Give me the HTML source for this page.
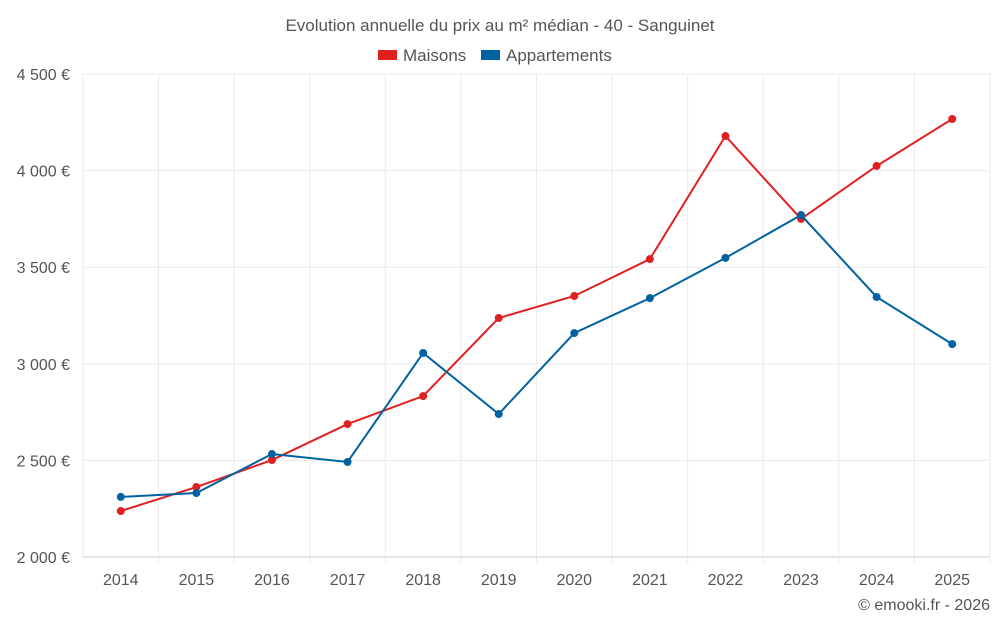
<!DOCTYPE html>
<html><head><meta charset="utf-8"><style>
body{margin:0;background:#fff;font-family:"Liberation Sans",sans-serif;}
svg text{font-family:"Liberation Sans",sans-serif;fill:#555;}
</style></head><body>
<svg id="chart" width="1000" height="625">
<text x="500" y="31" text-anchor="middle" font-size="17">Evolution annuelle du prix au m² médian - 40 - Sanguinet</text>
<g>
<g><rect x="378" y="50" width="19" height="10" fill="#e02020"/><text x="403" y="61" font-size="17">Maisons</text></g>
<g><rect x="481" y="50" width="19" height="10" fill="#0062a0"/><text x="506" y="61" font-size="17">Appartements</text></g>
</g>
<g id="grid"></g>
<g id="axes"></g>
<g id="series"></g>
<text x="990" y="610" text-anchor="end" font-size="16">© emooki.fr - 2026</text>
</svg>
<script>
const years=["2014","2015","2016","2017","2018","2019","2020","2021","2022","2023","2024","2025"];
const maisons=[2238,2362,2502,2688,2833,3237,3351,3542,4179,3750,4024,4267];
const appartements=[2311,2331,2533,2492,3056,2740,3159,3340,3548,3770,3346,3102];
const yTicks=[2000,2500,3000,3500,4000,4500];
const yTickLabels=["2 000 €","2 500 €","3 000 €","3 500 €","4 000 €","4 500 €"];
const L=83,R=990,T=74,B=557,ymin=2000,ymax=4500;
const bw=(R-L)/years.length;
const x=i=>L+bw*(i+0.5);
const y=v=>B-(v-ymin)/(ymax-ymin)*(B-T);
const NS="http://www.w3.org/2000/svg";
function mk(tag,attrs,parent){const e=document.createElementNS(NS,tag);for(const k in attrs)e.setAttribute(k,attrs[k]);parent.appendChild(e);return e;}
const grid=document.getElementById('grid'),axes=document.getElementById('axes'),ser=document.getElementById('series');
yTicks.forEach((t,i)=>{
 const l=mk('line',{x1:L,x2:R,y1:y(t),y2:y(t),stroke:i==0?'#ccc':'#ebebeb','stroke-width':1},grid);
 
 
 const tx=mk('text',{x:70,y:y(t)+6,'text-anchor':'end','font-size':16},axes);
 tx.textContent=yTickLabels[i];
 
 
});
for(let i=0;i<=years.length;i++){
 const l=mk('line',{x1:L+bw*i,x2:L+bw*i,y1:T,y2:B+(i==0?0:6),stroke:'#ebebeb','stroke-width':1},grid);
 
 
}
years.forEach((yr,i)=>{
 const tx=mk('text',{x:x(i),y:585,'text-anchor':'middle','font-size':16},axes);
 tx.textContent=yr;
 
 
});
function drawSeries(vals,color,name){
 const p=mk('polyline',{points:vals.map((v,i)=>x(i)+','+y(v)).join(' '),fill:'none',stroke:color,'stroke-width':2},ser);
 
 
 vals.forEach((v,i)=>{
  const c=mk('circle',{cx:x(i),cy:y(v),r:4,fill:color},ser);
  
  
 });
}
drawSeries(maisons,'#e02020','maisons');
drawSeries(appartements,'#0062a0','appartements');
</script>
</body></html>
